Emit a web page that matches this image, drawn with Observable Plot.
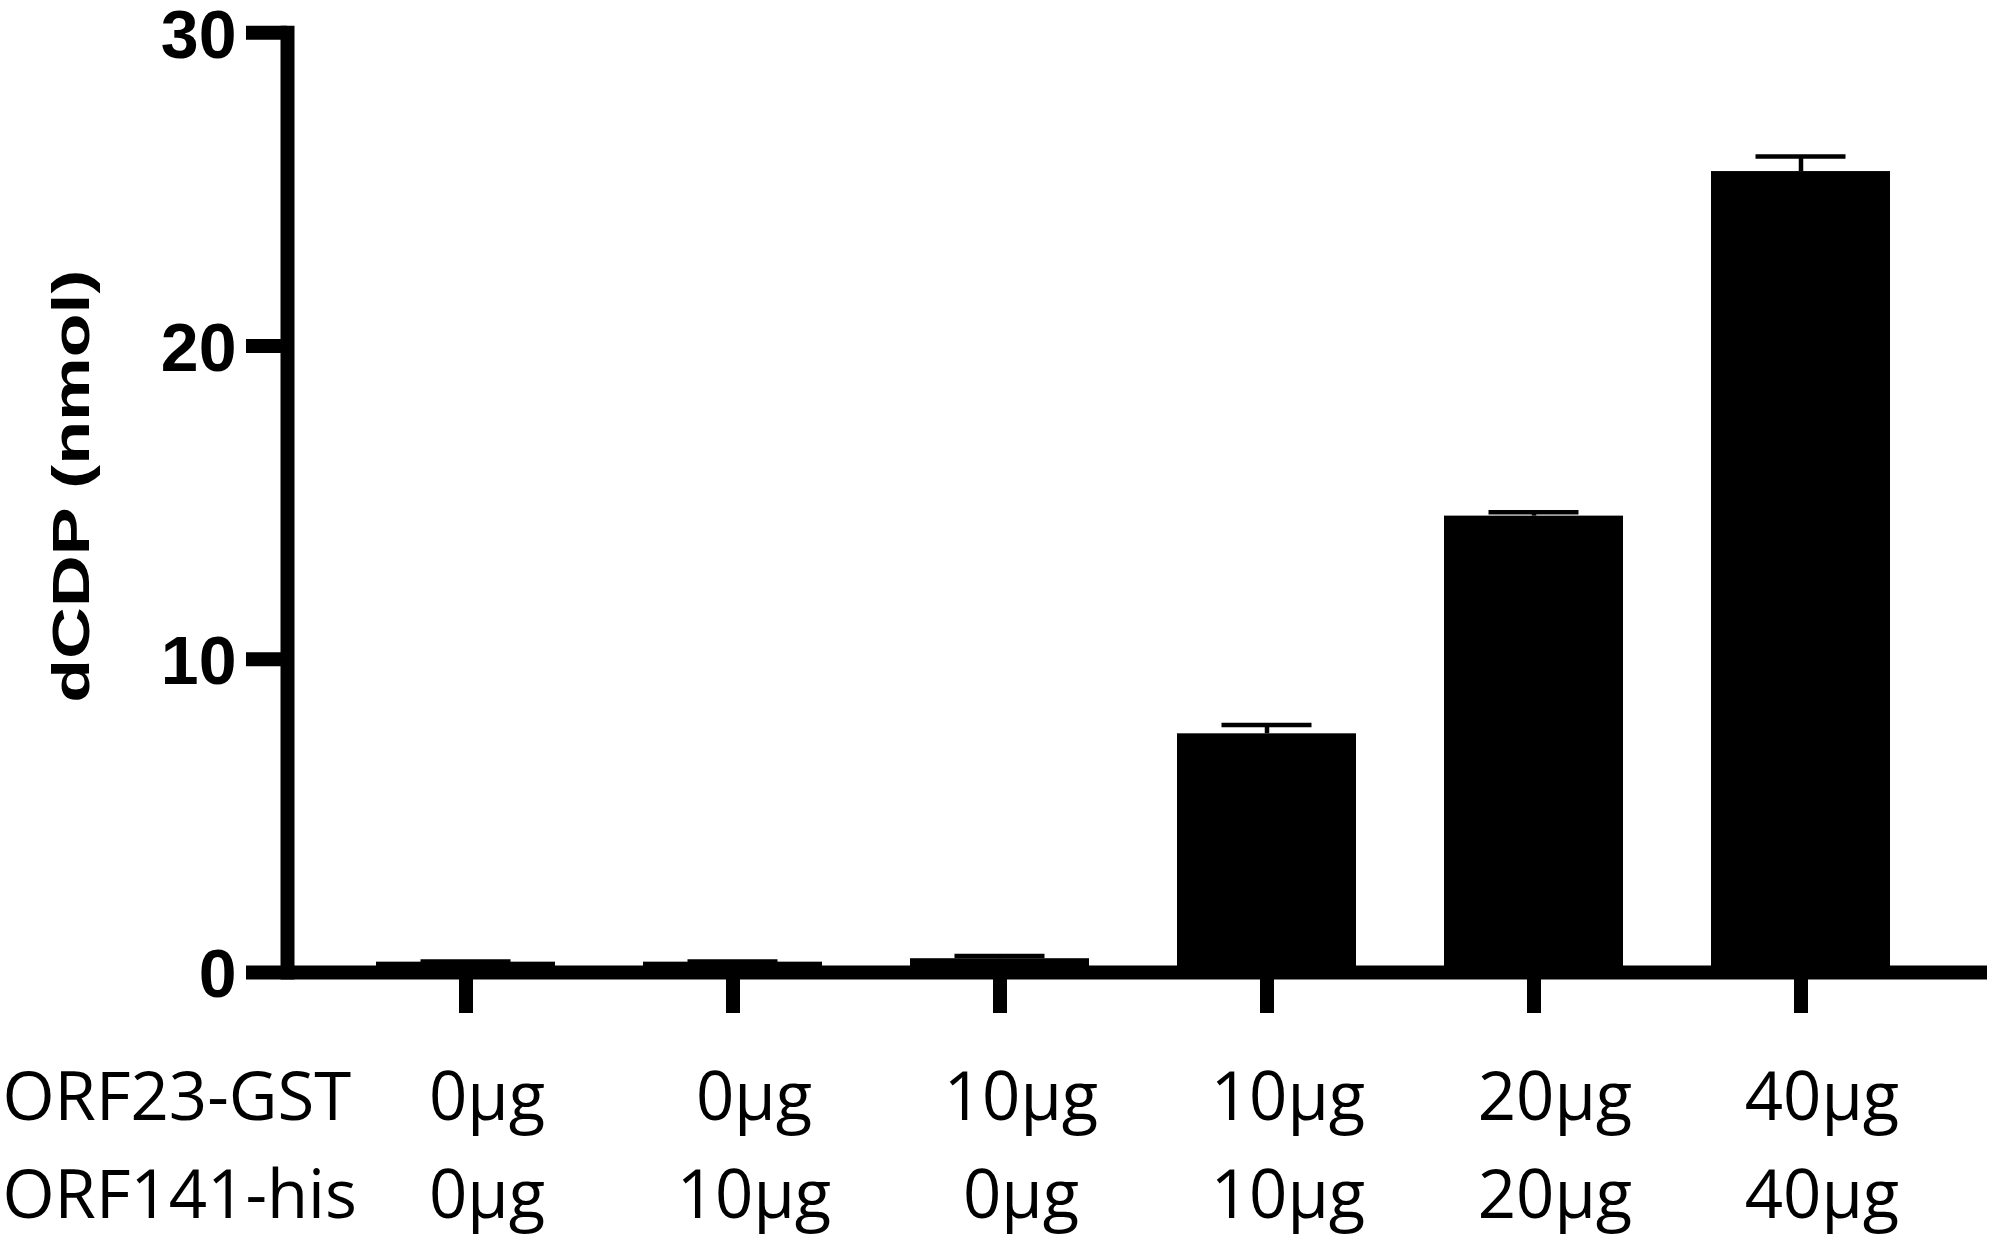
<!DOCTYPE html>
<html><head><meta charset="utf-8">
<script src="https://cdn.jsdelivr.net/npm/d3@7"></script>
<script src="https://cdn.jsdelivr.net/npm/@observablehq/plot@0.6"></script>
<style>
html,body{margin:0;padding:0;background:#fff;}
</style>
</head><body><div id="chart"></div>
<script>
// ---- data ----
const conditions = ["0/0", "0/10", "10/0", "10/10", "20/20", "40/40"];
const orf23Labels = ["0µg", "0µg", "10µg", "10µg", "20µg", "40µg"];
const orf141Labels = ["0µg", "10µg", "0µg", "10µg", "20µg", "40µg"];
const means = [0.33, 0.33, 0.44, 7.62, 14.57, 25.57];
const errors = [0.02, 0.02, 0.085, 0.28, 0.12, 0.48];
const yTicks = [0, 10, 20, 30];
const rowNames = ["ORF23-GST", "ORF141-his"];
const yTitle = "dCDP (nmol)";

const data = conditions.map((c, i) => ({cond: c, mean: means[i], top: means[i] + errors[i]}));
const gstMap = new Map(conditions.map((c, i) => [c, orf23Labels[i]]));
const hisMap = new Map(conditions.map((c, i) => [c, orf141Labels[i]]));

const boldFont = '"Liberation Sans", Arial, sans-serif';
const labelFont = '"Open Sans", sans-serif';

const chart = Plot.plot({
  width: 1995, height: 1241,
  marginLeft: 287, marginRight: 8, marginTop: 32.3, marginBottom: 269,
  style: {background: "#fff", color: "#000", overflow: "visible"},
  x: {type: "band", domain: conditions, paddingInner: 0.33, paddingOuter: 0.346, align: 0.48, axis: null},
  y: {domain: [0, 30], axis: null},
  marks: [
    Plot.barY(data, {x: "cond", y: "mean", fill: "#000"}),
    Plot.ruleX(data, {x: "cond", y1: "mean", y2: "top", stroke: "#000", strokeWidth: 4.5}),
    Plot.tickY(data, {x: "cond", y: "top", stroke: "#000", strokeWidth: 4.5, insetLeft: 44.5, insetRight: 44.5}),
    Plot.ruleY([0], {stroke: "#000", strokeWidth: 14}),
    Plot.frame({anchor: "left", stroke: "#000", strokeWidth: 14, strokeLinecap: "square"}),
    Plot.axisY({ticks: yTicks, tickSize: 41, strokeWidth: 14, tickFormat: () => "", label: null}),
    Plot.axisY({ticks: yTicks, tickSize: 0, tickPadding: 51, dy: 3, fontSize: 68, fontWeight: "bold", fontFamily: boldFont, label: null, tickFormat: d => String(d)}),
    Plot.axisX({tickSize: 41, strokeWidth: 14, tickFormat: () => "", label: null}),
    Plot.axisX({tickSize: 0, tickPadding: 100, tickFormat: d => gstMap.get(d), fontSize: 67, fontFamily: labelFont, dx: 21, label: null}),
    Plot.axisX({tickSize: 0, tickPadding: 198, tickFormat: d => hisMap.get(d), fontSize: 67, fontFamily: labelFont, dx: 21, label: null}),
    Plot.text([rowNames[0]], {frameAnchor: "bottom-left", textAnchor: "start", lineAnchor: "top", dx: -285, dy: 100, fontSize: 67, fontFamily: labelFont}),
    Plot.text([rowNames[1]], {frameAnchor: "bottom-left", textAnchor: "start", lineAnchor: "top", dx: -285, dy: 198, fontSize: 67, fontFamily: labelFont}),
    Plot.text([yTitle], {frameAnchor: "left", rotate: -90, lineAnchor: "middle", textAnchor: "middle", dx: -215.5, dy: -16.5, fontSize: 52, fontWeight: "bold", fontFamily: boldFont})
  ]
});
document.getElementById("chart").appendChild(chart);
d3.select(chart).selectAll("text").filter(function() { return this.textContent === yTitle; })
  .attr("transform", function() { return (this.getAttribute("transform") || "") + " scale(1.38,1)"; });
</script>
</body></html>
